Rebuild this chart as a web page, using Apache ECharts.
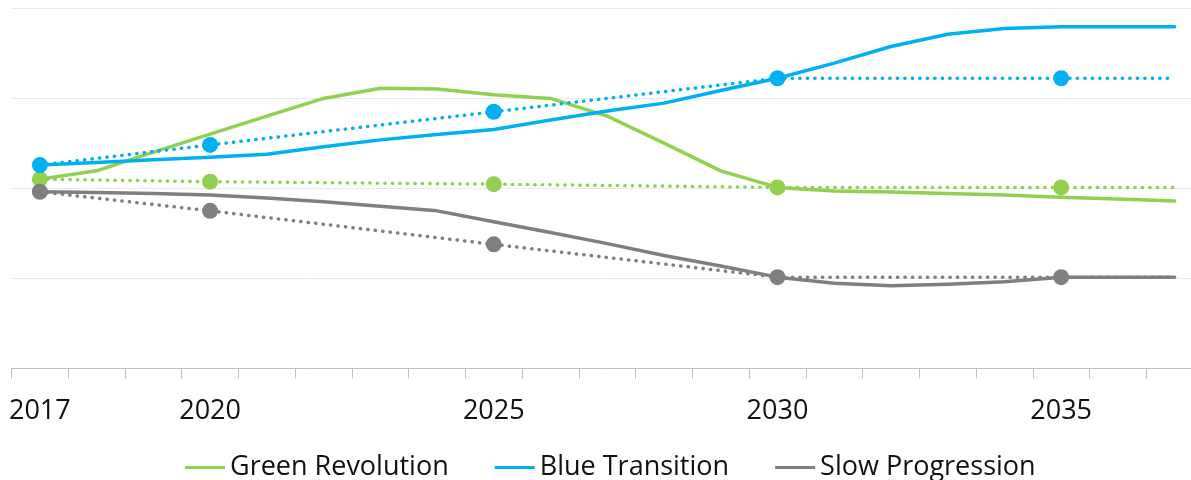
<!DOCTYPE html>
<html>
<head>
<meta charset="utf-8">
<script src="https://cdn.jsdelivr.net/npm/echarts@6/dist/echarts.min.js"></script>
<style>
  html, body { margin: 0; padding: 0; background: #ffffff; }
  #chart { width: 1191px; height: 480px; }
</style>
</head>
<body>
<div id="chart"></div>
<script>
// Yearly scenario paths, 2017–2037
const years = ['2017','2018','2019','2020','2021','2022','2023','2024','2025','2026','2027',
               '2028','2029','2030','2031','2032','2033','2034','2035','2036','2037'];
const tickLabels = ['2017', '2020', '2025', '2030', '2035'];

const greenRevolution = [52.5, 54.8, 60.0, 65.0, 70.0, 74.9, 77.7, 77.5, 75.9, 74.9, 70.0,
                         62.5, 54.8, 50.2, 49.2, 48.9, 48.5, 48.1, 47.5, 47.0, 46.4];
const blueTransition  = [56.4, 57.1, 57.9, 58.6, 59.4, 61.5, 63.4, 64.9, 66.3, 68.9, 71.4,
                         73.6, 77.1, 80.5, 84.7, 89.3, 92.7, 94.3, 94.8, 94.8, 94.8];
const slowProgression = [49.0, 48.8, 48.5, 48.1, 47.3, 46.2, 45.0, 43.7, 40.7, 37.7, 34.6,
                         31.3, 28.4, 25.3, 23.6, 22.9, 23.3, 24.0, 25.3, 25.3, 25.3];

// Milestone targets (dotted lines with markers)
const targetYears  = ['2017', '2020', '2025', '2030', '2035', '2037'];
const greenTargets = [52.5, 51.8, 51.1, 50.2, 50.2, 50.2];
const blueTargets  = [56.4, 62.0, 71.2, 80.5, 80.5, 80.5];
const slowTargets  = [49.0, 43.7, 34.4, 25.3, 25.3, 25.3];

const GREEN = '#92D050';
const BLUE  = '#00B0F0';
const GRAY  = '#7F7F7F';

// place milestone values on the yearly category axis, leaving gaps elsewhere
function spread(values) {
  return years.map(y => {
    const i = targetYears.indexOf(y);
    return i >= 0 ? values[i] : null;
  });
}

function solid(name, data, color) {
  return {
    name, type: 'line', data, color,
    symbol: 'none',
    lineStyle: { width: 3.5, color, cap: 'round', join: 'round' },
    z: 2
  };
}

function dotted(name, values, color) {
  return {
    name, type: 'line', data: spread(values), color,
    connectNulls: true,
    showAllSymbol: true,
    symbol: (val, params) => tickLabels.includes(years[params.dataIndex]) ? 'circle' : 'none',
    symbolSize: 16,
    itemStyle: { color, borderWidth: 0 },
    lineStyle: { width: 3.5, color, type: [0.3, 7.2], cap: 'round' },
    z: 3
  };
}

const chart = echarts.init(document.getElementById('chart'), null, { renderer: 'canvas' });

chart.setOption({
  animation: false,
  backgroundColor: '#ffffff',
  grid: {
    left: 11.5, top: 8, width: 1191.5, height: 360.3,
    containLabel: false,
    outerBoundsMode: 'none'
  },
  xAxis: {
    type: 'category',
    data: years,
    boundaryGap: true,
    axisLine: { show: true, lineStyle: { color: '#bfbfbf', width: 1 } },
    axisTick: { show: true, interval: 0, length: 10, lineStyle: { color: '#bfbfbf', width: 1 } },
    axisLabel: {
      interval: (idx, val) => tickLabels.includes(val),
      margin: 30,
      color: '#111111',
      fontFamily: 'Open Sans',
      fontSize: 27,
      hideOverlap: false
    },
    splitLine: { show: false }
  },
  yAxis: {
    type: 'value',
    min: 0, max: 100, interval: 25,
    axisLine: { show: false },
    axisTick: { show: false },
    axisLabel: { show: false },
    splitLine: { show: true, lineStyle: { color: '#e9e9e9', width: 1 } }
  },
  legend: {
    data: ['Green Revolution', 'Blue Transition', 'Slow Progression'],
    left: 180,
    top: 449,
    icon: 'rect',
    itemWidth: 40,
    itemHeight: 3,
    itemGap: 46,
    textStyle: { color: '#111111', fontFamily: 'Open Sans', fontSize: 27 }
  },
  series: [
    solid('Green Revolution', greenRevolution, GREEN),
    solid('Blue Transition', blueTransition, BLUE),
    solid('Slow Progression', slowProgression, GRAY),
    dotted('Green Revolution', greenTargets, GREEN),
    dotted('Blue Transition', blueTargets, BLUE),
    dotted('Slow Progression', slowTargets, GRAY)
  ]
});
</script>
</body>
</html>
